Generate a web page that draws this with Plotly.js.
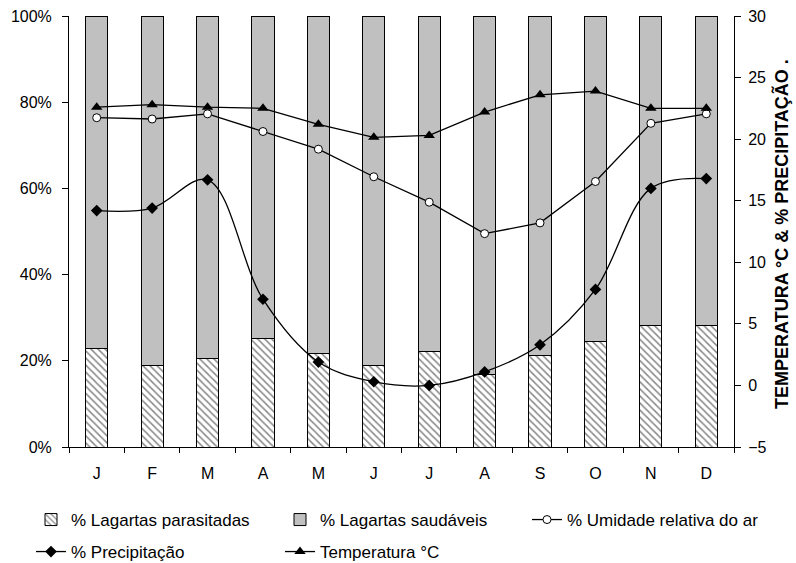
<!DOCTYPE html>
<html>
<head>
<meta charset="utf-8">
<script src="https://cdn.plot.ly/plotly-3.0.1.min.js"></script>
<style>html,body{margin:0;padding:0;background:#fff;}#chart{width:796px;height:563px;}</style>
</head>
<body>
<div id="chart"></div>
<script>
var monthKeys = ['Jan','Fev','Mar','Abr','Mai','Jun','Jul','Ago','Set','Out','Nov','Dez'];
var monthLabels = ['J','F','M','A','M','J','J','A','S','O','N','D'];
var parasitadas = [22.9, 18.8, 20.6, 25.2, 21.6, 19.0, 22.1, 16.8, 21.2, 24.4, 28.3, 28.3];
var saudaveis = parasitadas.map(function(v){ return 100 - v; });
var umidade = [76.4, 76.1, 77.3, 73.2, 69.1, 62.7, 56.8, 49.5, 52.0, 61.6, 75.1, 77.3];
var precipitacao = [14.2, 14.4, 16.7, 7.0, 1.9, 0.3, 0.0, 1.1, 3.3, 7.8, 16.0, 16.8];
var temperatura = [22.6, 22.8, 22.6, 22.5, 21.2, 20.15, 20.3, 22.2, 23.6, 23.9, 22.5, 22.5];
var leftTickVals = [0, 20, 40, 60, 80, 100];
var leftTickText = ['0%', '20%', '40%', '60%', '80%', '100%'];

var FONT = 'Arial, "Liberation Sans", sans-serif';

var traces = [
  {
    type: 'bar', name: '% Lagartas parasitadas', x: monthKeys, y: parasitadas,
    marker: {color: '#ffffff', line: {color: '#000000', width: 1},
             pattern: {shape: '\\', fgcolor: '#888888', bgcolor: '#ffffff', size: 5, solidity: 0.3}},
    legend: 'legend', showlegend: true, hoverinfo: 'skip'
  },
  {
    type: 'bar', name: '% Lagartas saudáveis', x: monthKeys, y: saudaveis,
    marker: {color: '#c0c0c0', line: {color: '#000000', width: 1}},
    legend: 'legend2', showlegend: true, hoverinfo: 'skip'
  },
  {
    type: 'scatter', mode: 'lines+markers', name: '% Umidade relativa do ar', x: monthKeys, y: umidade,
    yaxis: 'y', line: {color: '#000000', width: 1.3},
    marker: {symbol: 'circle', size: 8, color: '#ffffff', line: {color: '#000000', width: 1}},
    legend: 'legend3', showlegend: true, hoverinfo: 'skip'
  },
  {
    type: 'scatter', mode: 'lines+markers', name: '% Precipitação', x: monthKeys, y: precipitacao,
    yaxis: 'y2', line: {color: '#000000', width: 1.3, shape: 'spline', smoothing: 1},
    marker: {symbol: 'diamond', size: 9, color: '#000000'},
    legend: 'legend4', showlegend: true, hoverinfo: 'skip'
  },
  {
    type: 'scatter', mode: 'lines+markers', name: 'Temperatura °C', x: monthKeys, y: temperatura,
    yaxis: 'y2', line: {color: '#000000', width: 1.3},
    marker: {symbol: 'triangle-up', size: 10, color: '#000000'},
    legend: 'legend5', showlegend: true, hoverinfo: 'skip'
  }
];

function px2x(p){ return (p - 69) / 665; }
function py2y(p){ return (447 - p) / 431; }

function leg(xp, yp){
  return {xref: 'container', yref: 'container', x: xp / 796, y: 1 - yp / 563,
          xanchor: 'left', yanchor: 'middle', orientation: 'h', visible: true,
          bgcolor: 'rgba(0,0,0,0)', borderwidth: 0, font: {family: FONT, size: 17, color: '#000'}};
}

var layout = {
  width: 796, height: 563,
  showlegend: true,
  margin: {l: 69, r: 62, t: 16, b: 116, autoexpand: false},
  paper_bgcolor: '#ffffff', plot_bgcolor: '#ffffff',
  barmode: 'stack', bargap: 0.6,
  font: {family: FONT, size: 16, color: '#000'},
  xaxis: {
    type: 'category', range: [-0.5, 11.5], tickmode: 'array', tickvals: monthKeys, ticktext: monthLabels,
    tickson: 'boundaries', ticks: 'outside', ticklen: 5, tickcolor: '#000', showline: true, linecolor: '#000',
    linewidth: 1, showgrid: false, zeroline: false, tickfont: {family: FONT, size: 16}, automargin: false,
    ticklabelstandoff: 12
  },
  yaxis: {
    range: [0, 100], tickmode: 'array', tickvals: leftTickVals, ticktext: leftTickText, ticks: 'outside', ticklen: 6,
    tickcolor: '#000', showline: true, linecolor: '#000', linewidth: 1, showgrid: false, zeroline: false,
    tickfont: {family: FONT, size: 16}, ticklabelstandoff: 7, automargin: false
  },
  yaxis2: {
    range: [-5, 30], dtick: 5, tick0: -5, overlaying: 'y', side: 'right', ticks: 'outside', ticklen: 6,
    tickcolor: '#000', showline: true, linecolor: '#000', linewidth: 1, showgrid: false, zeroline: false,
    tickfont: {family: FONT, size: 16}, ticklabelstandoff: 4, automargin: false
  },
  legend: leg(31, 520),
  legend2: leg(280, 520),
  legend3: leg(527, 520),
  legend4: leg(31, 552),
  legend5: leg(280, 552),
  annotations: [{
    text: '<b>TEMPERATURA °C &amp; % PRECIPITAÇÃO .</b>', textangle: -90, showarrow: false,
    xref: 'paper', yref: 'paper', x: px2x(781), y: py2y(234), xanchor: 'center', yanchor: 'middle',
    font: {family: FONT, size: 18, color: '#000'}
  }]
};

Plotly.newPlot('chart', traces, layout, {displayModeBar: false, staticPlot: true});
</script>
</body>
</html>
